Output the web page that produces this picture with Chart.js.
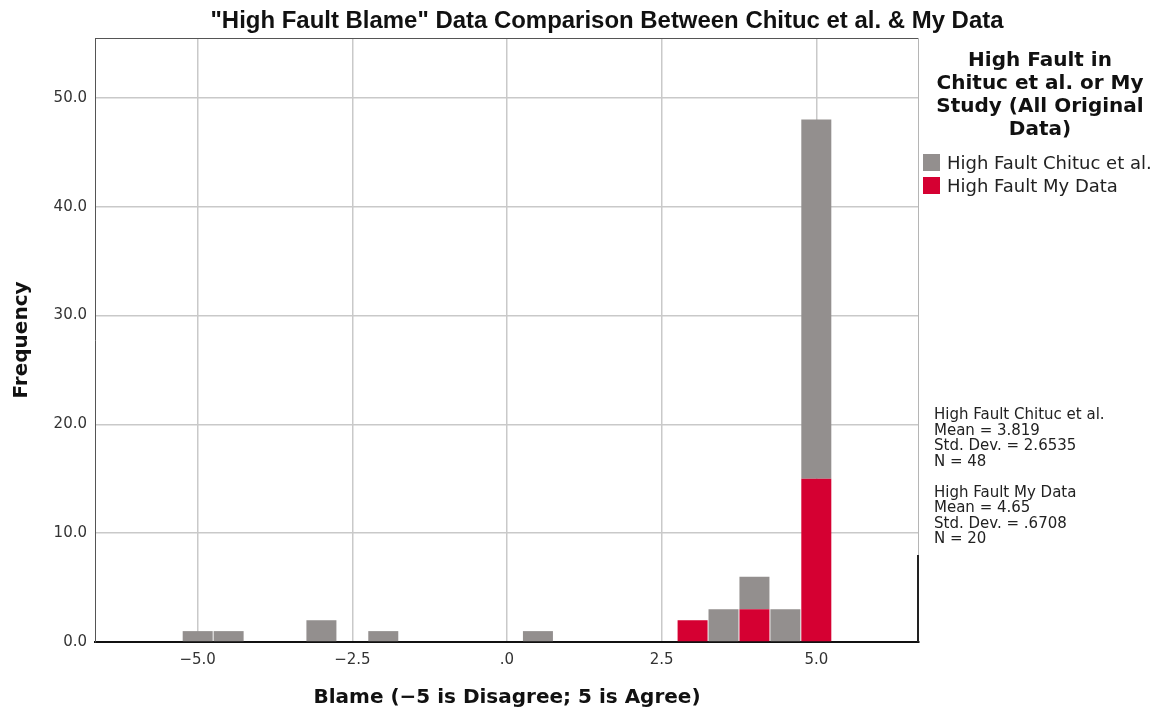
<!DOCTYPE html>
<html>
<head>
<meta charset="utf-8">
<script src="https://cdn.jsdelivr.net/npm/chart.js@4/dist/chart.umd.min.js"></script>
<style>
  html, body { margin: 0; padding: 0; background: #fff; }
  #wrap { position: relative; width: 1172px; height: 716px; overflow: hidden; }
  #c { position: absolute; left: 0; top: 0; }
  #title { position: absolute; left: 607px; top: 9px; white-space: nowrap;
           font-family: "Liberation Sans Narrow", "Liberation Sans", sans-serif; font-weight: bold;
           font-size: 23px; line-height: 23px; color: #111; transform-origin: 0 0; }
  #legTitle { position: absolute; left: 920px; width: 240px; top: 48px; text-align: center;
              font-family: "DejaVu Sans", sans-serif; font-weight: bold; font-size: 20px;
              line-height: 23px; color: #111; }
  .item { position: absolute; left: 923px; height: 17px; font-family: "DejaVu Sans", sans-serif;
          font-size: 18px; color: #222; white-space: nowrap; }
  .sw { position: absolute; left: 0; top: 0; width: 17px; height: 17px; }
  .lab { position: absolute; left: 24px; top: -3px; line-height: 23px; }
  #stats { position: absolute; left: 934px; top: 407px; white-space: pre;
           font-family: "DejaVu Sans", sans-serif; font-size: 15px; line-height: 15.5px; color: #222; }
</style>
</head>
<body>
<div id="wrap">
  <canvas id="c" width="1172" height="716"></canvas>
  <div id="title"></div>
  <div id="legTitle"></div>
  <div id="legItems"></div>
  <div id="stats"></div>
</div>
<script>
// ---- data ----
const chartTitle = '"High Fault Blame" Data Comparison Between Chituc et al. & My Data';
const xAxisTitle = 'Blame (\u22125 is Disagree; 5 is Agree)';
const yAxisTitle = 'Frequency';
const legendTitleLines = ['High Fault in', 'Chituc et al. or My', 'Study (All Original', 'Data)'];
const seriesNames = ['High Fault Chituc et al.', 'High Fault My Data'];
const seriesColors = ['#938f8e', '#d50032'];

const chitucBins = [-5, -4.5, -3, -2, 0.5, 3.5, 4, 4.5, 5];
const chitucCounts = [1, 1, 2, 1, 1, 3, 3, 3, 33];
const myBins = [3, 4, 5];
const myCounts = [2, 3, 15];

const xTicks = [-5, -2.5, 0, 2.5, 5];
const yTicks = [0, 10, 20, 30, 40, 50];

const statsChituc = ['High Fault Chituc et al.', 'Mean = 3.819', 'Std. Dev. = 2.6535', 'N = 48'];
const statsMine = ['High Fault My Data', 'Mean = 4.65', 'Std. Dev. = .6708', 'N = 20'];

// ---- HTML texts ----
const tEl = document.getElementById('title');
tEl.textContent = chartTitle;
document.getElementById('legTitle').innerHTML = legendTitleLines.join('<br>');
const li = document.getElementById('legItems');
seriesNames.forEach((n, i) => {
  const d = document.createElement('div');
  d.className = 'item';
  d.style.top = (154 + 23 * i) + 'px';
  d.innerHTML = '<div class="sw" style="background:' + seriesColors[i] + '"></div><div class="lab"></div>';
  d.querySelector('.lab').textContent = n;
  li.appendChild(d);
});
document.getElementById('stats').textContent = statsChituc.join('\n') + '\n\n' + statsMine.join('\n');
const tw = tEl.getBoundingClientRect().width;
const k = 793 / tw;
tEl.style.transform = 'translateX(' + (-793 / 2) + 'px) scaleX(' + k + ')';

// ---- chart ----
const fmtX = v => v === 0 ? '.0' : (v < 0 ? '\u2212' + Math.abs(v).toFixed(1) : v.toFixed(1));

const framePlugin = {
  id: 'frame',
  afterDraw(chart) {
    const a = chart.chartArea, ctx = chart.ctx;
    ctx.save();
    ctx.lineWidth = 1;
    ctx.strokeStyle = '#555';
    ctx.beginPath();
    ctx.moveTo(a.left, a.top + 0.5);
    ctx.lineTo(a.right, a.top + 0.5);
    ctx.stroke();
    ctx.strokeStyle = '#b5b5b5';
    ctx.beginPath();
    ctx.moveTo(a.right - 0.5, a.top);
    ctx.lineTo(a.right - 0.5, a.bottom);
    ctx.stroke();
    ctx.strokeStyle = '#222';
    ctx.lineWidth = 2;
    ctx.beginPath();
    ctx.moveTo(a.right - 1, a.bottom - 87);
    ctx.lineTo(a.right - 1, a.bottom);
    ctx.stroke();
    ctx.restore();
  }
};

new Chart(document.getElementById('c'), {
  type: 'bar',
  data: {
    datasets: [
      { label: seriesNames[1], data: myBins.map((x, i) => ({ x: x, y: myCounts[i] })),
        backgroundColor: seriesColors[1], borderWidth: 0 },
      { label: seriesNames[0], data: chitucBins.map((x, i) => ({ x: x, y: chitucCounts[i] })),
        backgroundColor: seriesColors[0], borderWidth: 0 }
    ]
  },
  options: {
    responsive: false,
    animation: false,
    events: [],
    barPercentage: 0.97,
    categoryPercentage: 1,
    layout: { padding: { left: 0, top: 38, right: 253, bottom: 0 } },
    plugins: { legend: { display: false }, title: { display: false }, tooltip: { enabled: false } },
    scales: {
      x: {
        type: 'linear', stacked: true, min: -6.66, max: 6.66, offset: false,
        afterFit: s => { s.height = 74; },
        afterBuildTicks: s => { s.ticks = xTicks.map(v => ({ value: v })); },
        ticks: { callback: v => fmtX(v), color: '#333', padding: 9, maxRotation: 0,
                 font: { family: 'DejaVu Sans', size: 15 } },
        grid: { color: '#c9c9c9', lineWidth: 1.5, drawTicks: false, offset: false },
        border: { color: '#111', width: 2 },
        title: { display: true, text: xAxisTitle, color: '#111', padding: { top: 0, bottom: 6 },
                 font: { family: 'DejaVu Sans', size: 20, weight: 'bold' } }
      },
      y: {
        type: 'linear', stacked: true, min: 0, max: 55.5,
        afterFit: s => { s.width = 95; },
        afterBuildTicks: s => { s.ticks = yTicks.map(v => ({ value: v })); },
        ticks: { callback: v => v.toFixed(1), color: '#333', padding: 8,
                 font: { family: 'DejaVu Sans', size: 15 } },
        grid: { color: '#c9c9c9', lineWidth: 1.5, drawTicks: false },
        border: { color: '#555', width: 1 },
        title: { display: true, text: yAxisTitle, color: '#111', padding: { top: 10, bottom: 0 },
                 font: { family: 'DejaVu Sans', size: 20, weight: 'bold' } }
      }
    }
  },
  plugins: [framePlugin]
});
</script>
</body>
</html>
